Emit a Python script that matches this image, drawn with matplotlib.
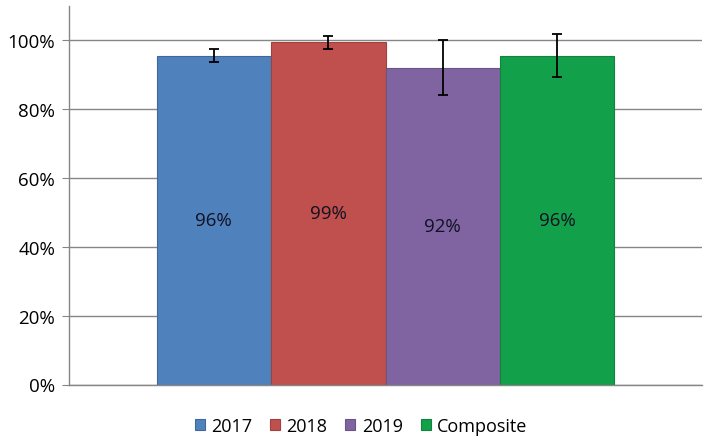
import matplotlib
matplotlib.use("Agg")
import matplotlib.pyplot as plt
from matplotlib.ticker import PercentFormatter

# values
series = ["2017", "2018", "2019", "Composite"]
values = [0.956, 0.994, 0.920, 0.956]
errors = [0.020, 0.020, 0.080, 0.062]
labels = ["96%", "99%", "92%", "96%"]
colors = ["#4F81BD", "#C0504D", "#8064A2", "#13A04A"]
edges = ["#40699A", "#9E4240", "#6A5387", "#0F843D"]
yticks = [0, 0.2, 0.4, 0.6, 0.8, 1.0]

plt.rcParams["font.family"] = ["Open Sans", "DejaVu Sans"]

fig = plt.figure(figsize=(7.08, 4.39), dpi=100)
ax = fig.add_axes([69 / 708, 1 - 385.5 / 439, 633 / 708, (385.5 - 7) / 439])

for i, name in enumerate(series):
    ax.bar(i, values[i], width=1.0, color=colors[i], edgecolor=edges[i],
           linewidth=0.8, label=name, zorder=2)
    ax.errorbar(i, values[i], yerr=errors[i], fmt="none", ecolor="black",
                elinewidth=1.3, capsize=3.5, capthick=1.3, zorder=3)
    ax.text(i, values[i] / 2, labels[i], ha="center", va="center",
            fontsize=13.5, color="#111122", zorder=4)

ax.set_xlim(-1.265, 4.265)
ax.set_ylim(0, 1.1)
ax.set_yticks(yticks)
ax.yaxis.set_major_formatter(PercentFormatter(1.0, decimals=0))
ax.set_xticks([])
ax.grid(axis="y", color="#868686", linewidth=1.0, zorder=0)
ax.tick_params(axis="y", length=5, color="#868686", labelsize=13.5, pad=5)

for side in ["top", "right"]:
    ax.spines[side].set_visible(False)
for side in ["left", "bottom"]:
    ax.spines[side].set_color("#868686")
    ax.spines[side].set_linewidth(1.0)

fig.legend(loc="center", bbox_to_anchor=(0.51, 1 - 427 / 439), ncol=4,
           frameon=False, fontsize=13, handlelength=0.55, handleheight=0.55,
           handletextpad=0.35, columnspacing=1.0)

fig.savefig("out.png", dpi=100)
